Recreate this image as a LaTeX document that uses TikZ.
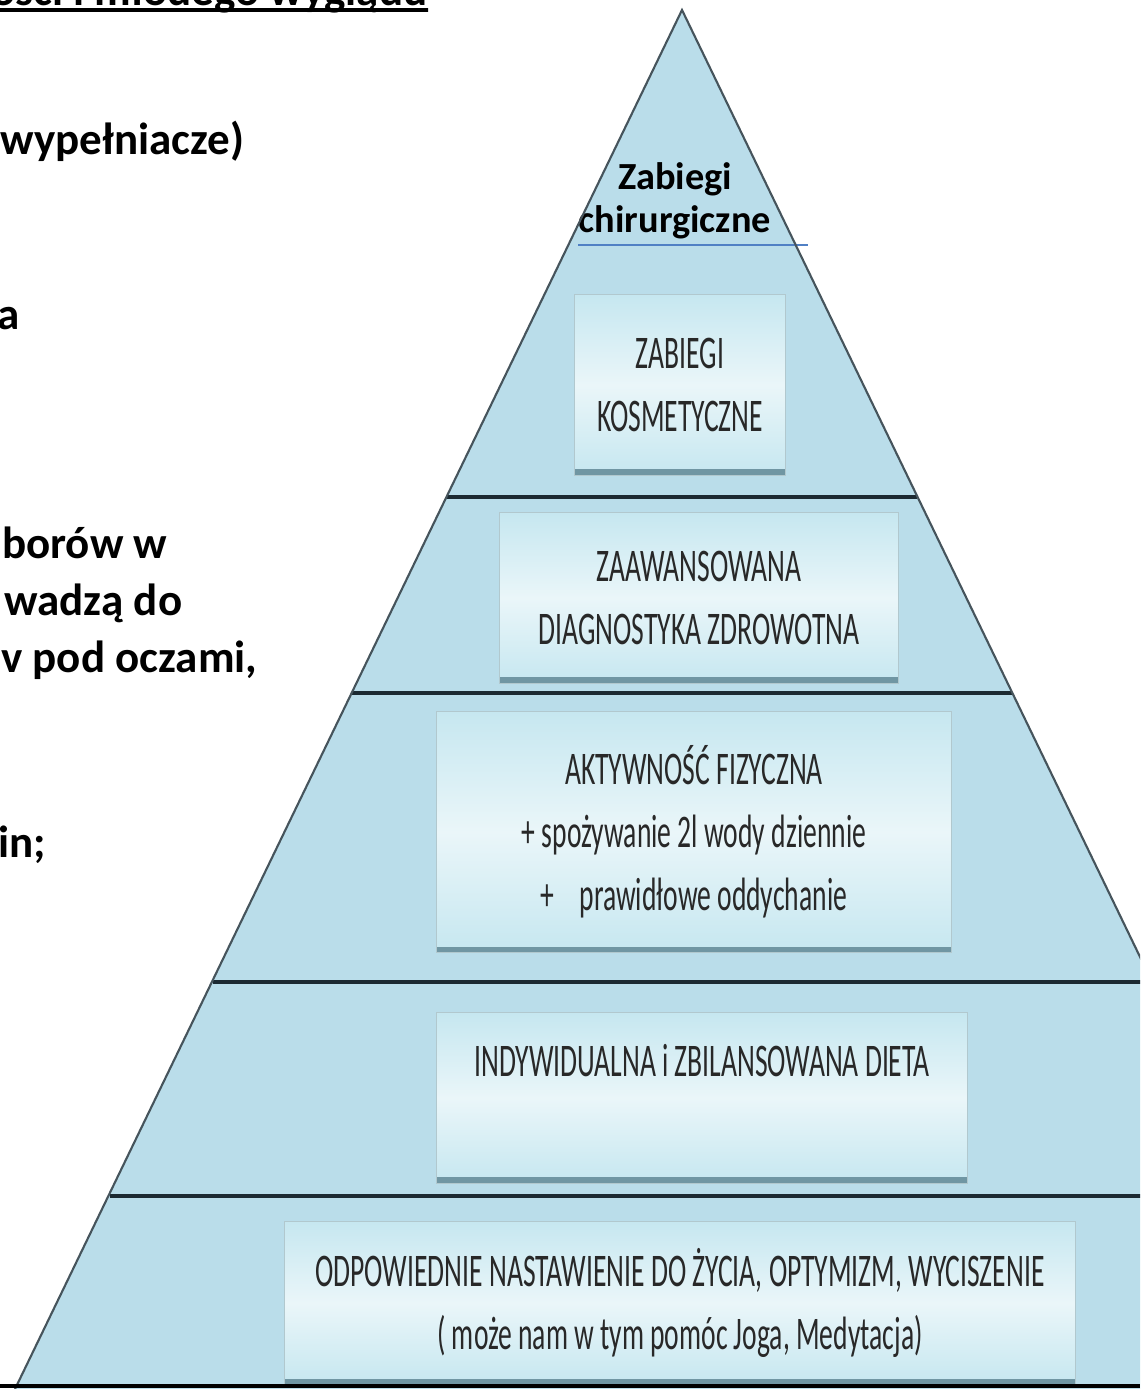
\documentclass[tikz,border=0pt]{standalone}
\usepackage{fontspec}
\setmainfont{Carlito}
\newfontfamily\narrowfont[FakeStretch=0.59]{Carlito}
\usetikzlibrary{calc,positioning}
\definecolor{pyrfill}{RGB}{186,221,234}
\definecolor{pyredge}{RGB}{70,84,92}
\definecolor{lyrline}{RGB}{28,42,50}
\definecolor{boxlight}{RGB}{234,246,249}
\definecolor{boxblue}{RGB}{198,231,240}
\definecolor{boxshade}{RGB}{112,150,163}
\definecolor{topline}{RGB}{80,128,196}
\definecolor{boxtext}{RGB}{40,40,40}

\begin{document}
\begin{tikzpicture}[x=0.01cm,y=-0.01cm,
        lvl/.style={rectangle,inner sep=0pt,draw=boxblue!70!gray,line width=0.3pt,
                top color=boxblue,bottom color=boxblue,middle color=boxlight,
                align=center,text=boxtext,font=\narrowfont\fontsize{13.3}{17.9}\selectfont,
                path picture={\fill[boxshade] ([yshift=0.06cm]path picture bounding box.south west) rectangle (path picture bounding box.south east);}},
        lyr/.style={draw=lyrline,line width=0.9pt},
        side/.style={font=\bfseries\fontsize{12.8}{16}\selectfont,anchor=base east,inner sep=0pt}]
                                \useasboundingbox (0,0) rectangle (1140,1389);
                                \begin{scope}
                                \clip (0,0) rectangle (1140,1389);
                                % pyramid
                                \coordinate (apex) at (682,10);
                                \coordinate (bl) at (15,1389);
                                \coordinate (br) at (1349,1389);
                                \fill[pyrfill] (apex) -- (bl) -- (br) -- cycle;

                                % levels
                                \node[lvl,minimum width=2.1cm,minimum height=1.8cm] (k1) at (680,385) {ZABIEGI\\KOSMETYCZNE};
                                \node[lvl,minimum width=3.98cm,minimum height=1.7cm] (k2) at (699,598) {ZAAWANSOWANA\\DIAGNOSTYKA ZDROWOTNA};
                                \node[lvl,minimum width=5.15cm,minimum height=2.41cm] (k3) at (694,832) {AKTYWNOŚĆ FIZYCZNA\\+ spożywanie 2l wody\ dziennie\\+\ \ \ \ prawidłowe oddychanie};
                                \node[lvl,minimum width=5.3cm,minimum height=1.7cm,text depth=0.76cm] (k4) at (702,1098) {INDYWIDUALNA i ZBILANSOWANA DIETA};
                                \node[lvl,minimum width=7.9cm,minimum height=1.63cm] (k5) at (680,1303) {ODPOWIEDNIE NASTAWIENIE DO ŻYCIA, OPTYMIZM, WYCISZENIE\\( może nam w tym pomóc Joga, Medytacja)};

                                \node[font=\bfseries\fontsize{10.9}{12.2}\selectfont,align=center,inner sep=0pt] (szczyt) at (675,201) {Zabiegi\\chirurgiczne};

                                \draw[topline,line width=0.5pt] (578,245) -- (808,245);
                                \draw[lyr] (447,497) -- (917,497);
                                \draw[lyr] (352,693) -- (1012,693);
                                \draw[lyr] (213,982) -- (1151,982);
                                \draw[lyr] (110,1196) -- (1254,1196);
                                \draw[pyredge,line width=0.6pt] (bl) -- (apex) -- (br);
                                \draw[black,line width=1.4pt] (0,1386) -- (1140,1386);

                                % cut text on the left
                                \node[side] (ttl) at (428,6) {ości i młodego wyglądu};
                                \draw[line width=1.1pt] (0,10) -- ([yshift=-0.04cm]ttl.base east);
                                \node[side] (w1) at (245,155) {wypełniacze)};
                                \node[side] (w2) at (20,330) {a};
                                \node[side] (w3) at (168,558) {borów w};
                                \node[side] (w4) at (183,615) {wadzą do};
                                \node[side] (w5) at (258,672) {v pod oczami,};
                                \node[side] (w6) at (47,857) {in;};
                                \end{scope}
                            \end{tikzpicture}
\end{document}
